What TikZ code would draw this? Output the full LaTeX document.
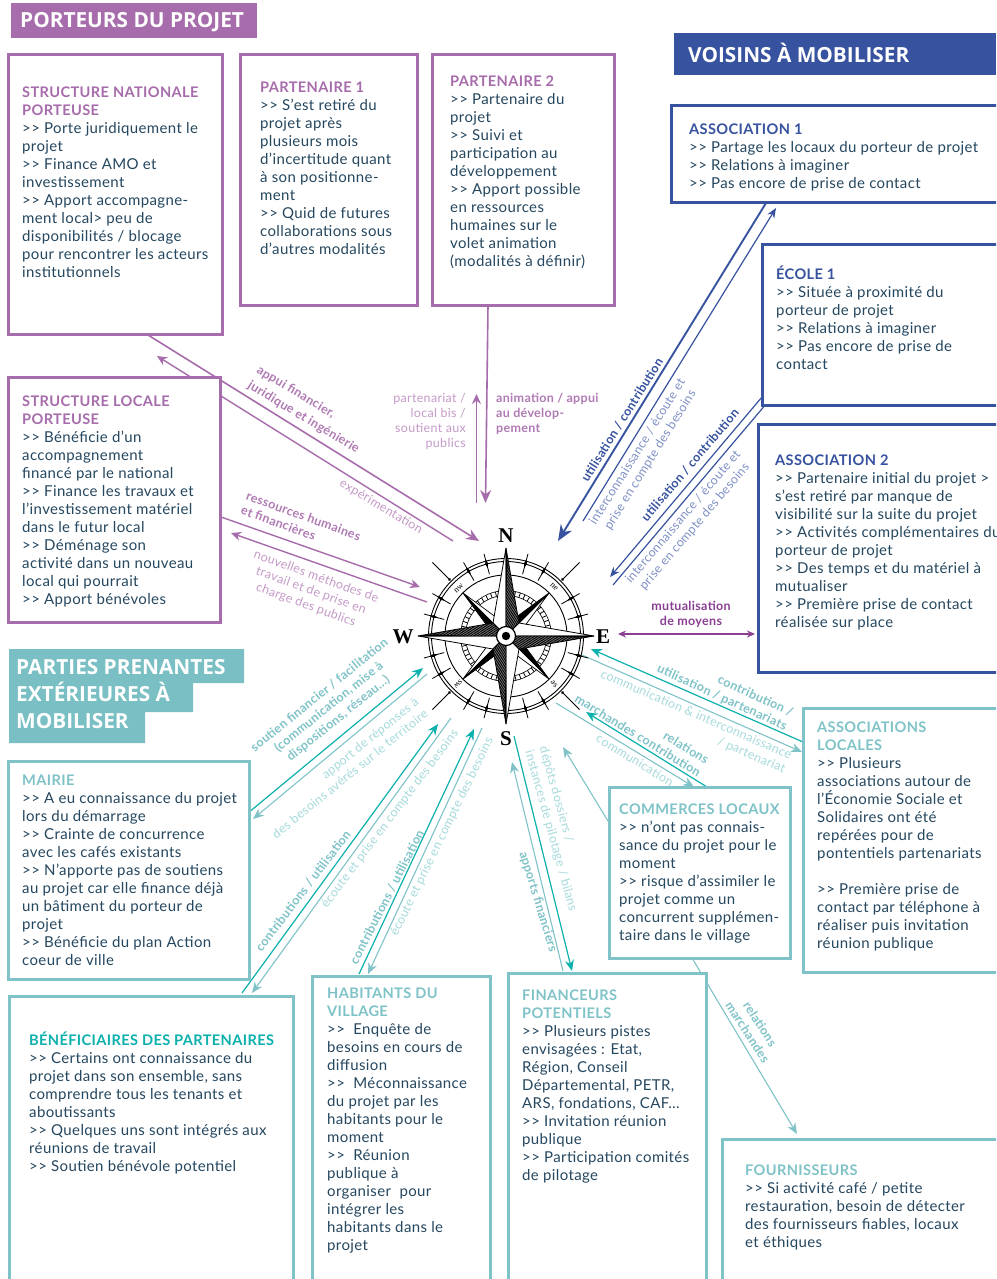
\documentclass[tikz,border=0pt]{standalone}
\usepackage{fontspec}
\setmainfont{Lato}[LetterSpace=2.5,Ligatures=TeXOff]
\newfontfamily\bannerf{Open Sans}
\newfontfamily\rosef{Liberation Serif}
\usetikzlibrary{arrows.meta}
\pgfdeclarelayer{bg}
\pgfsetlayers{bg,main}
\definecolor{cpur}{HTML}{A76CAB}
\definecolor{cpul}{HTML}{B07AB4}
\definecolor{cpal}{HTML}{C59AC8}
\definecolor{cblu}{HTML}{37529F}
\definecolor{cblp}{HTML}{7F90C6}
\definecolor{cteb}{HTML}{7FC3C8}
\definecolor{cted}{HTML}{0CB0AC}
\definecolor{ctep}{HTML}{A6DADC}
\definecolor{cink}{HTML}{25475F}
\definecolor{cdpu}{HTML}{8A3F92}
\definecolor{cban}{HTML}{7ABFC4}
\newcommand{\HdP}[1]{\textcolor{cpur}{\fontsize{14.6}{18}\selectfont\bfseries #1}}
\newcommand{\HdB}[1]{\textcolor{cblu}{\fontsize{14.6}{18}\selectfont\bfseries #1}}
\newcommand{\HdT}[1]{\textcolor{cteb}{\fontsize{14.6}{18}\selectfont\bfseries #1}}
\newcommand{\HdD}[1]{\textcolor{cted}{\fontsize{14.6}{18}\selectfont\bfseries #1}}
\newcommand{\bodyf}{\fontsize{15}{18}\selectfont}
\newcommand{\labf}{\fontsize{12.5}{15}\selectfont}
\newcommand{\banf}{\fontsize{20.8}{27}\selectfont\bannerf\bfseries}
% \bx{name}{style}{x0}{y0}{x1}{y1}{tx}{ty}{text}
\newcommand{\bx}[9]{%
  \node[#2,minimum width={#5-#3},minimum height={#6-#4}] (#1) at (#3,#4) {};
  \node[bodytext] (#1T) at (#7,#8+1) {\strut#9};}
% \conn{name}{x1,y1}{x2,y2}{style}
\newcommand{\conn}[4]{%
  \coordinate (#1s) at (#2);\coordinate (#1e) at (#3);
  \draw[#4] (#1s) -- (#1e);}
\tikzset{
  basebox/.style={draw,fill=white,anchor=north west,inner sep=0pt,outer sep=0pt,line width=3pt},
  boxpur/.style={basebox,draw=cpur},
  boxblu/.style={basebox,draw=cblu},
  boxteb/.style={basebox,draw=cteb},
  bodytext/.style={anchor=north west,inner sep=0pt,align=left,font=\bodyf,text=cink},
  banner/.style={anchor=north west,inner sep=0pt,align=left,font=\banf,text=white},
  lab/.style={inner sep=0pt,font=\labf,align=center},
  labl/.style={lab,align=left},
  labr/.style={lab,align=right},
  arrow/.style={-{Stealth[length=9pt,width=7.5pt]},line width=1.2pt},
  arrP/.style={arrow,draw=cpur,line width=1.6pt,-{Stealth[length=13pt,width=11pt]}},
  arrp/.style={arrow,draw=cpur,line width=1.4pt,-{Stealth[length=10pt,width=9pt]}},
  arrB/.style={arrow,draw=cblu,line width=1.9pt,-{Stealth[length=16pt,width=13pt]}},
  arrb/.style={arrow,draw=cblu,line width=1.2pt,-{Stealth[length=10pt,width=8pt]}},
  arrd/.style={arrow,draw=cted,line width=1.2pt,-{Stealth[length=11pt,width=9pt]}},
  arrl/.style={arrow,draw=cteb,line width=1.1pt,-{Stealth[length=11pt,width=9pt]}},
  roseline/.style={line width=.9pt,draw=black},
  rosemark/.style={inner sep=0pt,font=\rosef\fontsize{8.5}{9}\selectfont},
  roseletter/.style={inner sep=0pt,font=\rosef\bfseries\fontsize{21}{22}\selectfont},
}
\begin{document}
\begin{tikzpicture}[x=1pt,y=-1pt]
\useasboundingbox (0,0) rectangle (996,1279);
\clip (0,0) rectangle (996,1279);
\begin{pgfonlayer}{bg}
\fill[white] (0,0) rectangle (996,1279);
\conn{a1}{148,335}{479,541}{arrP}
\conn{a2}{453,541}{157,356}{arrp}
\conn{a3}{221,517}{420,587}{arrp}
\conn{a4}{427,602}{231,533}{arrp}
\conn{a5}{476.5,503}{476.5,394}{arrp}
\conn{a6}{488,305}{485.5,503}{arrP}
\conn{b1}{766,203}{558,541}{arrB}
\conn{b2}{583,521}{776,208}{arrb}
\conn{b3}{762,397}{610,577}{arrb}
\conn{b4}{613,585}{772,397}{arrb}
\coordinate (m1) at (618,634);\coordinate (m2) at (755,634);
\draw[draw=cdpu,line width=1.2pt,{Stealth[length=8pt,width=7pt]}-{Stealth[length=8pt,width=7pt]}] (m1) -- (m2);
\conn{t1}{248,813}{423,668}{arrd}
\conn{t2}{427,674}{253,819}{arrl}
\conn{t3}{242,993}{438,724}{arrd}
\conn{t4}{451,718}{252,993}{arrl}
\conn{t5}{359,974}{474,729}{arrd}
\conn{t6}{482,728}{368,974}{arrl}
\conn{e1}{803,742}{591,649}{arrd}
\conn{e2}{582,655}{802,752}{arrl}
\conn{e3}{707,787}{586,712}{arrd}
\conn{e4}{556,703}{694,787}{arrl}
\conn{e5}{608,821}{563,747}{arrl}
\conn{s1}{514,736}{572,971}{arrd}
\conn{s2}{563,971}{512,762}{arrl}
\conn{f1}{692,958}{797,1134}{arrl}
\end{pgfonlayer}

% banners
\fill[cpur] (11,3) rectangle (257,38);
\node[banner] (ban1) at (20,12) {PORTEURS DU PROJET};
\fill[cblu] (674,33) rectangle (996,75);
\node[banner] (ban2) at (688,43) {VOISINS À MOBILISER};
\fill[cban] (9,649) rectangle (244,683) (9,683) rectangle (193,712) (9,712) rectangle (145,743);
\node[banner] (ban3) at (16,659) {PARTIES PRENANTES\\EXTÉRIEURES À\\MOBILISER};

% boxes
\bx{nat}{boxpur}{8}{55}{222}{334}{22}{84}{\HdP{STRUCTURE NATIONALE}\\\HdP{PORTEUSE}\\>> Porte juridiquement le\\projet\\>> Finance AMO et\\investissement\\>> Apport accompagne-\\ment local> peu de\\disponibilités / blocage\\pour rencontrer les acteurs\\institutionnels}
\bx{pa1}{boxpur}{240}{55}{417}{305}{260}{79}{\HdP{PARTENAIRE 1}\\>> S’est retiré du\\projet après\\plusieurs mois\\d’incertitude quant\\à son positionne-\\ment\\>> Quid de futures\\collaborations sous\\d’autres modalités}
\bx{pa2}{boxpur}{432}{55}{614}{305}{450}{73}{\HdP{PARTENAIRE 2}\\>> Partenaire du\\projet\\>> Suivi et\\participation au\\développement\\>> Apport possible\\en ressources\\humaines sur le\\volet animation\\(modalités à définir)}
\bx{loc}{boxpur}{8}{377}{220}{622}{22}{393}{\HdP{STRUCTURE LOCALE}\\\HdP{PORTEUSE}\\>> Bénéficie d’un\\accompagnement\\financé par le national\\>> Finance les travaux et\\l’investissement matériel\\dans le futur local\\>> Déménage son\\activité dans un nouveau\\local qui pourrait\\>> Apport bénévoles}
\bx{as1}{boxblu}{671}{106}{1010}{202}{689}{121}{\HdB{ASSOCIATION 1}\\>> Partage les locaux du porteur de projet\\>> Relations à imaginer\\>> Pas encore de prise de contact}
\bx{eco}{boxblu}{762}{244}{1010}{405}{776}{265}{\HdB{ÉCOLE 1}\\>> Située à proximité du\\porteur de projet\\>> Relations à imaginer\\>> Pas encore de prise de\\contact}
\bx{as2}{boxblu}{758}{424}{1010}{672}{775}{452}{\HdB{ASSOCIATION 2}\\>> Partenaire initial du projet >\\s’est retiré par manque de\\visibilité sur la suite du projet\\>> Activités complémentaires du\\porteur de projet\\>> Des temps et du matériel à\\mutualiser\\>> Première prise de contact\\réalisée sur place}
\bx{mai}{boxteb}{8}{761}{249}{979}{22}{772}{\HdT{MAIRIE}\\>> A eu connaissance du projet\\lors du démarrage\\>> Crainte de concurrence\\avec les cafés existants\\>> N’apporte pas de soutiens\\au projet car elle finance déjà\\un bâtiment du porteur de\\projet\\>> Bénéficie du plan Action\\coeur de ville}
\bx{ben}{boxteb}{9}{996}{293}{1300}{29}{1031}{\HdD{BÉNÉFICIAIRES DES PARTENAIRES}\\>> Certains ont connaissance du\\projet dans son ensemble, sans\\comprendre tous les tenants et\\aboutissants\\>> Quelques uns sont intégrés aux\\réunions de travail\\>> Soutien bénévole potentiel}
\bx{hab}{boxteb}{312}{976}{490}{1300}{327}{985}{\HdT{HABITANTS DU}\\\HdT{VILLAGE}\\>> \ Enquête de\\besoins en cours de\\diffusion\\>> \ Méconnaissance\\du projet par les\\habitants pour le\\moment\\>> \ Réunion\\publique à\\organiser \ pour\\intégrer les\\habitants dans le\\projet}
\bx{fin}{boxteb}{508}{973}{706}{1300}{522}{987}{\HdT{FINANCEURS}\\\HdT{POTENTIELS}\\>> Plusieurs pistes\\envisagées : Etat,\\Région, Conseil\\Départemental, PETR,\\ARS, fondations, CAF…\\>> Invitation réunion\\publique\\>> Participation comités\\de pilotage}
\bx{com}{boxteb}{609}{787}{790}{958}{619}{801}{\HdT{COMMERCES LOCAUX}\\>> n’ont pas connais-\\sance du projet pour le\\moment\\>> risque d’assimiler le\\projet comme un\\concurrent supplémen-\\taire dans le village}
\bx{asl}{boxteb}{803}{708}{1010}{972}{817}{719}{\HdT{ASSOCIATIONS}\\\HdT{LOCALES}\\>> Plusieurs\\associations autour de\\l’Économie Sociale et\\Solidaires ont été\\repérées pour de\\pontentiels partenariats\\\strut\\>> Première prise de\\contact par téléphone à\\réaliser puis invitation\\réunion publique}
\bx{fou}{boxteb}{722}{1139}{1010}{1300}{745}{1162}{\HdT{FOURNISSEURS}\\>> Si activité café / petite\\restauration, besoin de détecter\\des fournisseurs fiables, locaux\\et éthiques}

% purple labels
\node[labl,text=cpul,font=\labf\bfseries,rotate=-31] (l1) at (308,410) {appui financier,\\[2.5pt]juridique et ingénierie};
\node[lab,text=cpal,rotate=-31] (l2) at (381,507) {expérimentation};
\node[labl,text=cpul,font=\labf\bfseries,rotate=-20] (l3) at (301,523) {ressources humaines\\et financières};
\node[lab,text=cpal,rotate=-20] (l4) at (311,591) {nouvelles méthodes de\\travail et de prise en\\charge des publics};
\node[labr,text=cpal,anchor=north east] (l5) at (466,393) {partenariat /\\local bis /\\soutient aux\\publics};
\node[labl,text=cpul,font=\labf\bfseries,anchor=north west] (l6) at (496,393) {animation / appui\\au dévelop-\\pement};
% blue labels
\node[lab,text=cblu,font=\labf\bfseries,rotate=58] (l7) at (622,420) {utilisation / contribution};
\node[lab,text=cblp,rotate=58] (l8) at (644,456) {interconnaissance / écoute et\\prise en compte des besoins};
\node[lab,text=cblu,font=\labf\bfseries,rotate=49.5] (l9) at (690,465) {utilisation / contribution};
\node[lab,text=cblp,rotate=49.5] (l10) at (689,522) {interconnaissance / écoute et\\prise en compte des besoins};
\node[lab,text=cdpu,font=\labf\bfseries] (l11) at (691,614) {mutualisation\\de moyens};
% teal labels
\node[lab,text=cteb,font=\labf\bfseries,rotate=39] (l12) at (329,707) {soutien financier / facilitation\\(communication, mise à\\dispositions, réseau…)};
\node[labr,text=ctep,rotate=39] (l13) at (345,768) {apport de réponses à\\des besoins avérés sur le territoire};
\node[lab,text=cteb,font=\labf\bfseries,rotate=52.7] (l14) at (303,891) {contributions / utilisation};
\node[lab,text=ctep,rotate=53] (l15) at (390,819) {écoute et prise en compte des besoins};
\node[lab,text=cteb,font=\labf\bfseries,rotate=63] (l16) at (387,897) {contributions / utilisation};
\node[lab,text=ctep,rotate=64] (l17) at (442,837) {écoute et prise en compte des besoins};
\node[labr,text=cteb,font=\labf\bfseries,rotate=-24.5] (l18) at (725,691) {contribution /\\utilisation / partenariats};
\node[labr,text=ctep,rotate=-23.5] (l19) at (693,722) {communication \& interconnaissance\\/ partenariat};
\node[labr,text=cteb,font=\labf\bfseries,rotate=-31.7] (l20) at (642,729) {relations\\marchandes contribution};
\node[lab,text=ctep,rotate=-31.5] (l21) at (635,760) {communication};
\node[labl,text=ctep,rotate=-74.5] (l22) at (558,829) {dépôts dossiers /\\instances de pilotage / bilans};
\node[lab,text=cteb,font=\labf\bfseries,rotate=-73] (l23) at (538,902) {apports financiers};
\node[lab,text=cteb,font=\labf\bfseries,rotate=-57] (l24) at (754,1028) {relations\\marchandes};

% compass rose
\begin{scope}[shift={(506,636)}]
  \draw[roseline] (0,0) circle (77.5);
  \draw[roseline] (0,0) circle (74.5);
  \draw[roseline] (0,0) circle (61);
  \draw[line width=5.5pt,black] (0,0) circle (43);
  \draw[line width=4pt,white] (0,0) circle (43);
  \draw[line width=4.5pt,black,dash pattern=on .8pt off 4pt] (0,0) circle (43);
  \foreach \q in {0,90,180,270} {
    \foreach \an in {15,30,60,75} {
      \begin{scope}[rotate=\q+\an]
        \draw[line width=.8pt] (0,-85) -- (0,-64);
        \fill[black] (0,-80) -- (1.4,-75) -- (0,-70) -- (-1.4,-75) -- cycle;
      \end{scope}
    }
    \begin{scope}[rotate=\q+45]
      \draw[line width=.9pt] (0,-104) -- (0,-80);
      \fill (0,-80) circle (1.6);
      % intercardinal points
      \filldraw[fill=white,draw=black,line width=.7pt] (0,-61) -- (7,-15) -- (0,0) -- cycle;
      \filldraw[fill=black,draw=black,line width=.7pt] (0,-61) -- (-7,-15) -- (0,0) -- cycle;
    \end{scope}
  }
  \foreach \q in {0,90,180,270} {
    \begin{scope}[rotate=\q]
      \filldraw[fill=white,draw=black,line width=.8pt] (0,-88) -- (-13,-13) -- (0,0) -- cycle;
      \filldraw[fill=white,draw=black,line width=.8pt] (0,-88) -- (13,-13) -- (0,0) -- cycle;
      \begin{scope}
        \clip (0,-88) -- (13,-13) -- (0,0) -- cycle;
        \foreach \hy in {-90,-88.6,...,6} {\draw[line width=.85pt] (0,\hy) -- (16,\hy-10);}
      \end{scope}
      \fill[black] (0,-88) -- (1.6,-70) -- (0,-40) -- cycle;
    \end{scope}
  }
  \filldraw[fill=white,draw=black,line width=1.2pt] (0,0) circle (9.5);
  \fill[black] (0,0) circle (4.2);
  \node[roseletter] (rN) at (0,-100) {N};
  \node[roseletter] (rE) at (97,1) {E};
  \node[roseletter] (rS) at (0,103) {S};
  \node[roseletter] (rW) at (-103,1) {W};
  \node[rosemark,rotate=45] (rnw) at (-47,-48) {nw};
  \node[rosemark,rotate=-45] (rne) at (48,-49) {ne};
  \node[rosemark,rotate=-135] (rsw) at (-48,48) {sw};
  \node[rosemark,rotate=135] (rse) at (48,48) {se};
\end{scope}
\end{tikzpicture}
\end{document}
